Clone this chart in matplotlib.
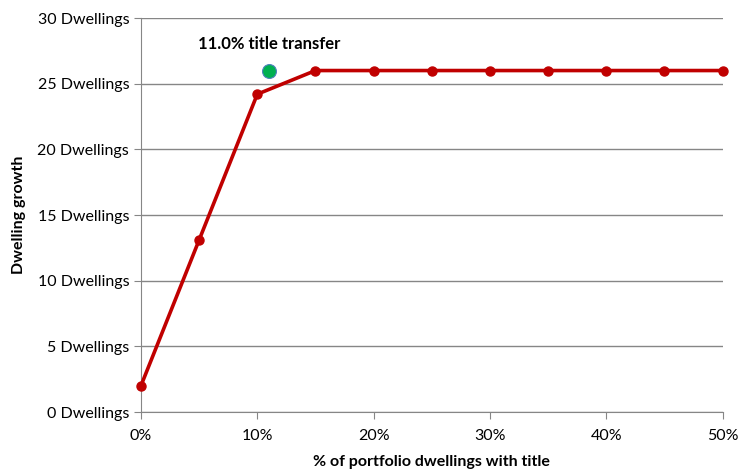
import matplotlib.pyplot as plt
from matplotlib.ticker import FuncFormatter, MultipleLocator

plt.rcParams['font.family'] = ['Lato', 'DejaVu Sans']

share_with_title = [0, 5, 10, 15, 20, 25, 30, 35, 40, 45, 50]
dwelling_growth = [2.0, 13.1, 24.2, 26.0, 26.0, 26.0, 26.0, 26.0, 26.0, 26.0, 26.0]
transfer_share = 11.0
transfer_growth = 26.0

fig = plt.figure(figsize=(7.4, 4.74), dpi=100)
ax = fig.add_axes([0.1905, 0.1308, 0.786, 0.8312])

ax.plot(share_with_title, dwelling_growth, color='#c00000', lw=2.6,
        marker='o', ms=6.5, zorder=3, clip_on=False)
ax.plot([transfer_share], [transfer_growth], 'o', color='#00b050', ms=10,
        mec='#4f81bd', mew=0.8, zorder=4)
ax.annotate(f'{transfer_share:.1f}% title transfer', (transfer_share, transfer_growth),
            xytext=(0, 13), textcoords='offset points', ha='center', va='bottom',
            fontsize=12, fontweight='bold')

ax.set_xlim(0, 50)
ax.set_ylim(0, 30)
ax.xaxis.set_major_locator(MultipleLocator(10))
ax.yaxis.set_major_locator(MultipleLocator(5))
ax.xaxis.set_major_formatter(FuncFormatter(lambda v, p: f'{v:.0f}%'))
ax.yaxis.set_major_formatter(FuncFormatter(lambda v, p: f'{v:.0f} Dwellings'))
ax.grid(axis='y', color='#868686', lw=1)
ax.set_axisbelow(True)
for s in ['top', 'right']:
    ax.spines[s].set_visible(False)
for s in ['left', 'bottom']:
    ax.spines[s].set_color('#868686')
ax.tick_params(colors='#868686', labelcolor='black', labelsize=11.5, length=5)
ax.tick_params(axis='x', pad=7)

ax.set_xlabel('% of portfolio dwellings with title', fontsize=11.5, fontweight='bold', labelpad=9)
ax.set_ylabel('Dwelling growth', fontsize=11.5, fontweight='bold', labelpad=8)

fig.savefig('out.png', dpi=100)
